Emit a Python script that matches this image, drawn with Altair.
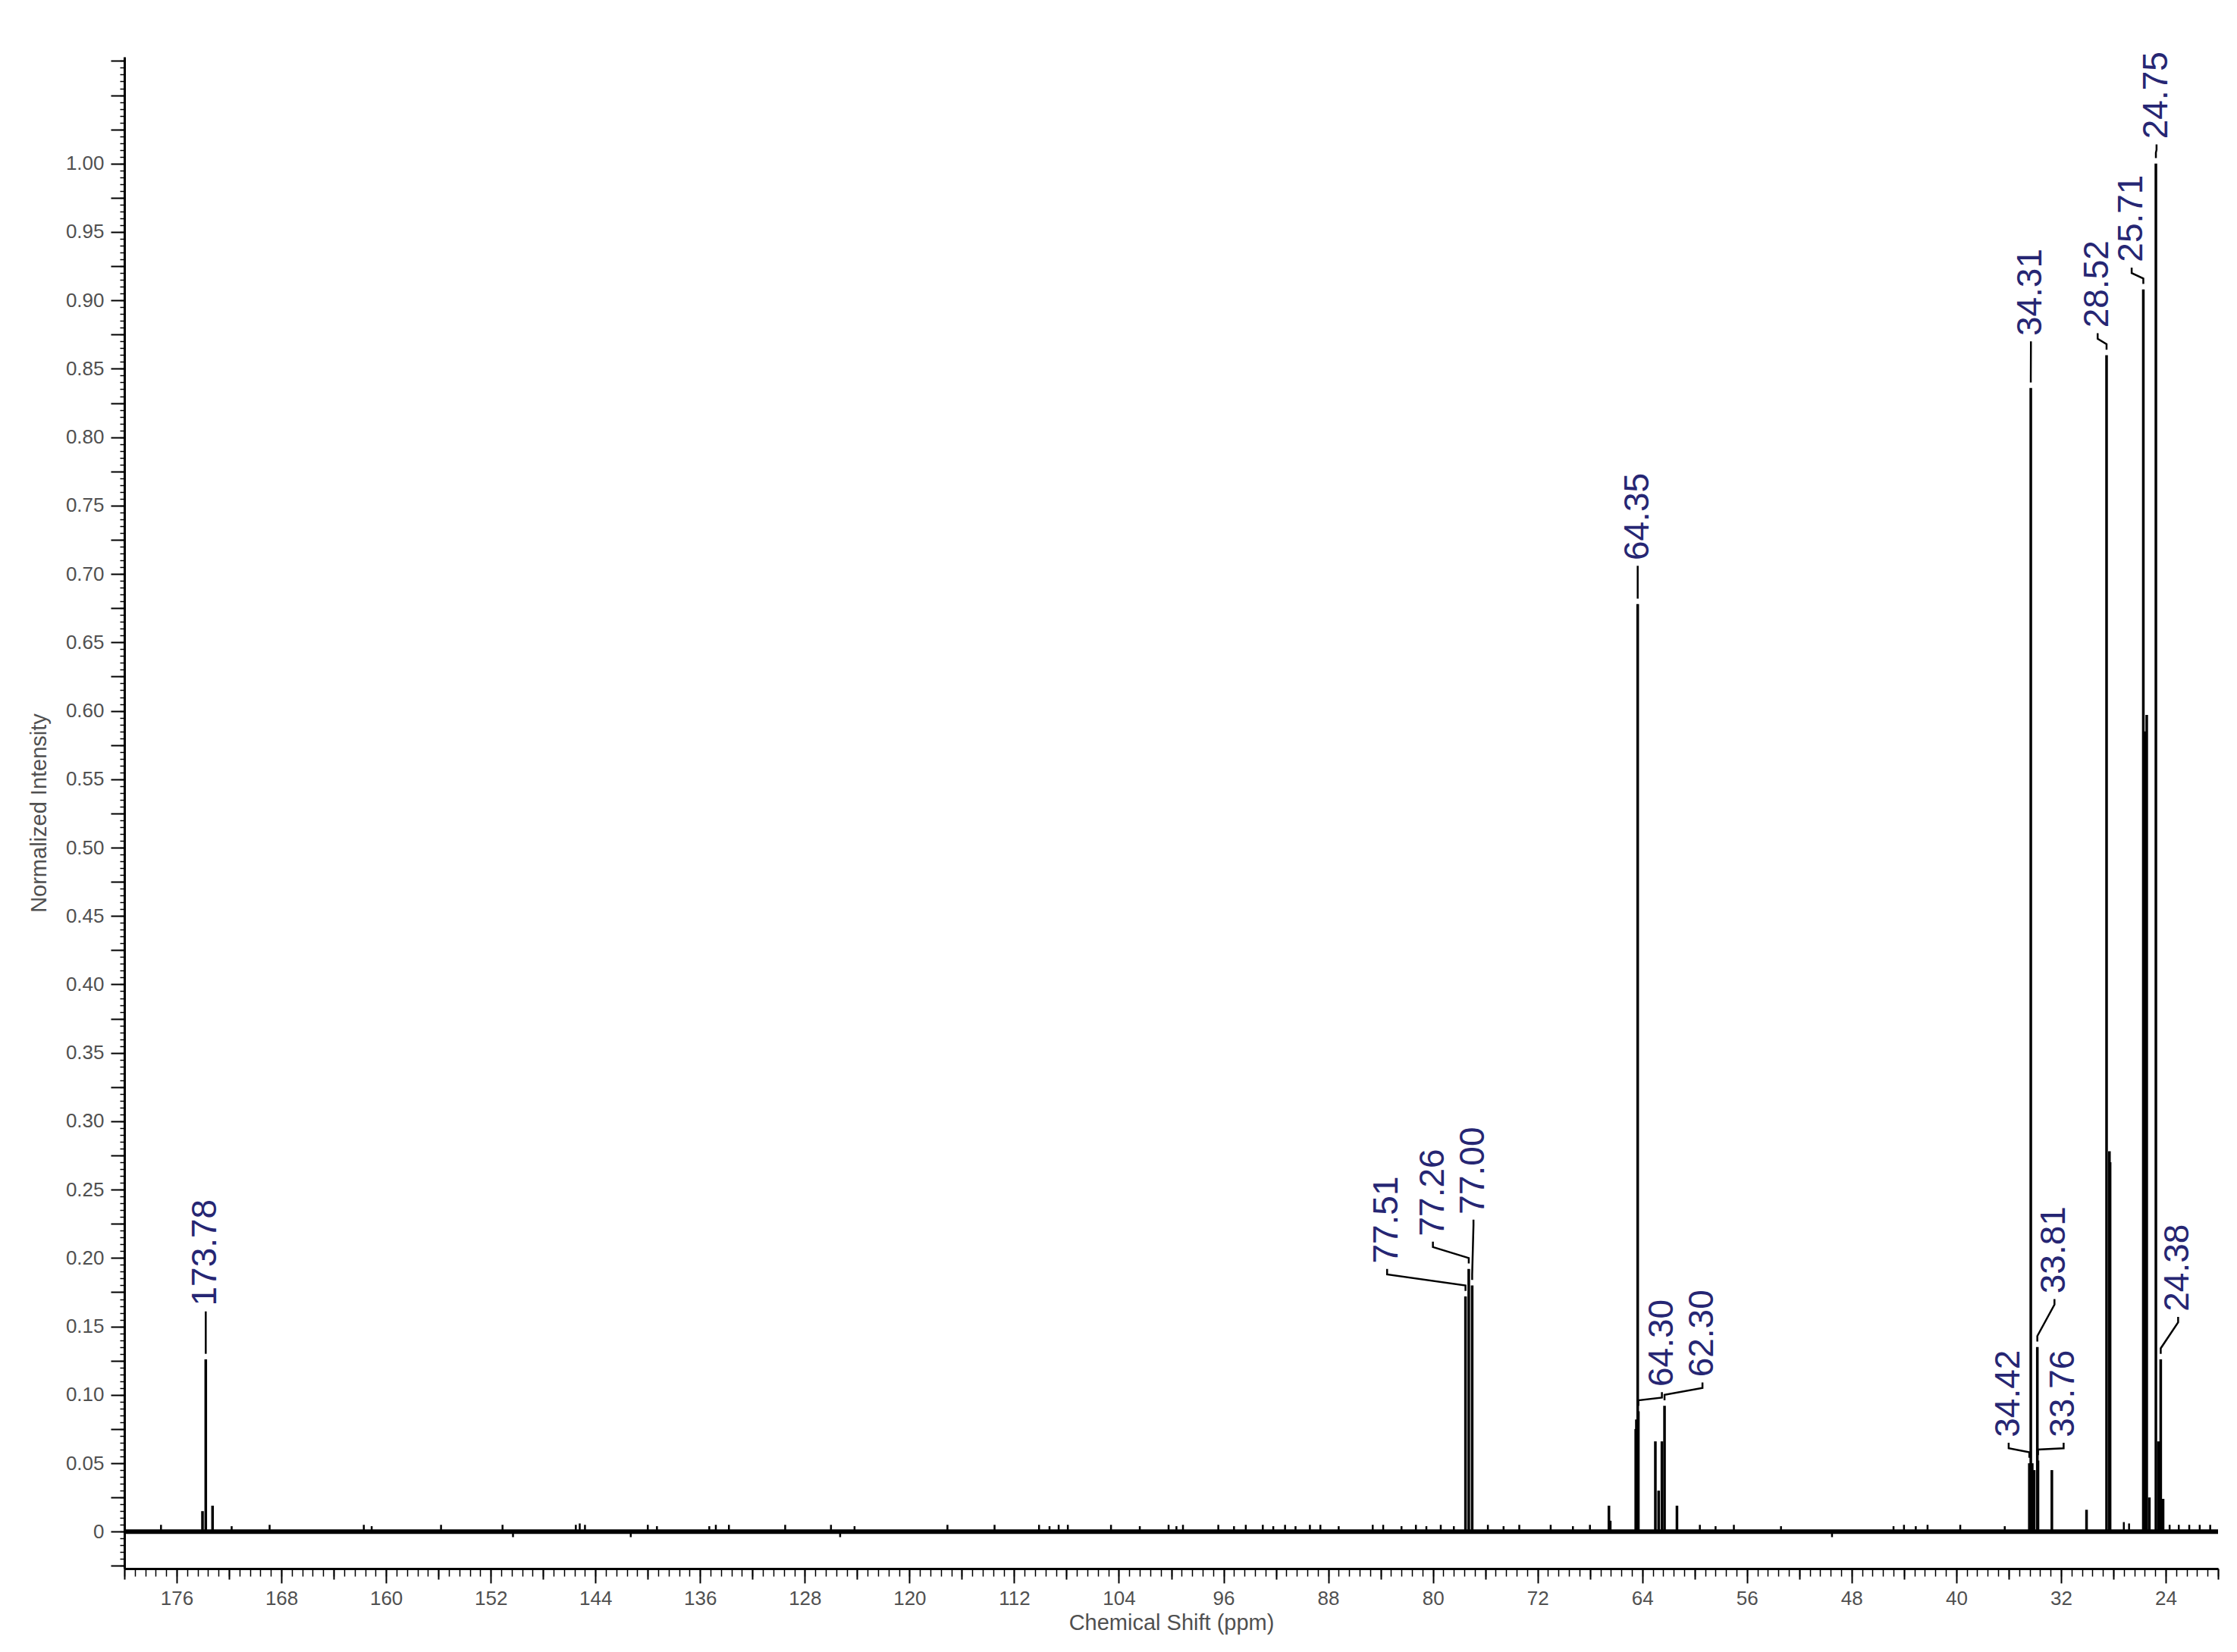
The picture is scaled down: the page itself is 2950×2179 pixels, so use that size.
import altair as alt
import pandas as pd

# ---- spectrum peaks (ppm, normalized intensity) ----
peak_ppm = [174.03, 173.78, 173.26, 77.51, 77.26, 77.00, 66.55, 66.45, 64.50, 64.45, 64.35,
            64.30, 63.00, 62.75, 62.50, 62.30, 61.35, 34.42, 34.31, 34.20, 34.05, 33.81,
            33.76, 32.70, 30.05, 28.52, 28.30, 28.25, 25.71, 25.52, 25.45, 25.25, 24.75,
            24.55, 24.38, 24.20]
peak_int = [0.015, 0.126, 0.019, 0.172, 0.192, 0.180, 0.019, 0.008, 0.075, 0.082, 0.678,
            0.088, 0.066, 0.030, 0.066, 0.092, 0.019, 0.050, 0.836, 0.050, 0.045, 0.135,
            0.052, 0.045, 0.016, 0.860, 0.278, 0.270, 0.908, 0.585, 0.597, 0.025, 1.000,
            0.066, 0.126, 0.024]

# ---- small baseline noise spikes ----
noise_ppm = [177.2, 171.8, 168.9, 161.7, 161.1, 155.8, 151.1, 150.3, 145.5, 145.2, 144.8,
             141.3, 140.0, 139.3, 135.3, 134.8, 133.8, 129.5, 126.0, 125.3, 124.2, 117.1,
             113.5, 110.1, 109.3, 108.6, 107.9, 104.6, 102.4, 100.2, 99.6, 99.1, 96.4, 95.2,
             94.3, 93.0, 92.2, 91.3, 90.5, 89.4, 88.6, 87.2, 84.6, 83.8, 82.4, 81.3, 80.5,
             79.4, 78.4, 75.8, 74.6, 73.4, 71.0, 69.3, 68.0, 59.6, 58.4, 57.0, 53.4, 49.5,
             44.8, 44.0, 43.1, 42.2, 39.7, 36.3, 27.2, 26.8, 23.7, 23.0, 22.2, 21.4, 20.6]
noise_int = [0.005, 0.004, 0.005, 0.005, 0.004, 0.005, 0.005, -0.004, 0.005, 0.006, 0.005,
             -0.004, 0.005, 0.004, 0.004, 0.005, 0.005, 0.005, 0.005, -0.004, 0.004, 0.005,
             0.005, 0.005, 0.004, 0.005, 0.005, 0.005, 0.004, 0.005, 0.004, 0.005, 0.005, 0.004,
             0.005, 0.005, 0.004, 0.005, 0.004, 0.005, 0.005, 0.004, 0.005, 0.005, 0.004, 0.005,
             0.004, 0.005, 0.004, 0.005, 0.004, 0.005, 0.005, 0.004, 0.005, 0.005, 0.004, 0.005,
             0.004, -0.004, 0.004, 0.005, 0.004, 0.005, 0.005, 0.004, 0.007, 0.006, 0.005,
             0.005, 0.005, 0.005, 0.005]

# ---- peak annotations ----
label_text = ["173.78", "77.51", "77.26", "77.00", "64.35", "64.30", "62.30", "34.42",
              "34.31", "33.81", "33.76", "28.52", "25.71", "24.75", "24.38"]
label_ppm = [173.78, 83.5, 80.0, 76.9, 64.35, 62.5, 59.4, 36.0,
             34.3, 32.5, 31.8, 29.2, 26.6, 24.7, 23.05]
label_base = [0.165, 0.196, 0.216, 0.232, 0.710, 0.106, 0.113, 0.069,
              0.874, 0.174, 0.069, 0.880, 0.928, 1.018, 0.161]

# ---- axis ticks ----
x_major = list(range(176, 23, -8))
x_medium = list(range(180, 19, -8))
x_minor = [round(20 + 0.8 * i, 1) for i in range(201)]
y_major = [round(0.05 * i, 2) for i in range(21)]
y_medium = [round(-0.025 + 0.05 * i, 3) for i in range(23)] + [1.05]
y_minor = [round(-0.025 + 0.005 * i, 3) for i in range(221)]

FONT = "Liberation Sans"
GREY = "#505050"
LABEL_BLUE = "#262673"

peaks_df = pd.DataFrame({"ppm": peak_ppm, "int": peak_int, "base": 0.0})
noise_df = pd.DataFrame({"ppm": noise_ppm, "int": noise_int, "base": 0.0})
labels_df = pd.DataFrame({"text": label_text, "x": label_ppm, "y": label_base})

gap, a, b = 0.004, 0.004, 0.004
rows = []
for t, lx, lb in zip(label_text, label_ppm, label_base):
    px = float(t)
    pt = peak_int[peak_ppm.index(px)]
    pts = [(lx, lb - gap), (lx, lb - gap - a), (px, pt + gap + b), (px, pt + gap)]
    for k, (xx, yy) in enumerate(pts):
        rows.append({"lab": t, "k": k, "x": xx, "y": yy})
conn_df = pd.DataFrame(rows)

xs = alt.Scale(domain=[20, 180], reverse=True, nice=False, zero=False)
ys = alt.Scale(domain=[-0.027, 1.078], nice=False, zero=False)

ax_x_main = alt.Axis(values=x_major, orient="bottom", tickSize=19, tickWidth=2, tickColor="black",
                     domain=True, domainWidth=3, domainColor="black", labelFont=FONT,
                     labelFontSize=26, labelColor=GREY, labelPadding=7, format="d",
                     labelFlush=False, labelOverlap=False, title="Chemical Shift (ppm)",
                     titleFont=FONT, titleFontSize=29, titleFontWeight="normal",
                     titleColor=GREY, titlePadding=5)
ax_x_med = alt.Axis(values=x_medium, orient="bottom", tickSize=14, tickWidth=2, tickColor="black",
                    domain=False, labels=False, title="")
ax_x_min = alt.Axis(values=x_minor, orient="bottom", tickSize=10, tickWidth=1.5, tickColor="black",
                    domain=False, labels=False, title="")

ax_y_main = alt.Axis(values=y_major, orient="left", tickSize=18, tickWidth=2, tickColor="black",
                     domain=True, domainWidth=3, domainColor="black", labelFont=FONT,
                     labelFontSize=26, labelColor=GREY, labelPadding=9,
                     labelExpr="datum.value == 0 ? '0' : format(datum.value, '.2f')",
                     labelOverlap=False, title="Normalized Intensity", titleFont=FONT,
                     titleFontSize=29, titleFontWeight="normal", titleColor=GREY,
                     titlePadding=20)
ax_y_med = alt.Axis(values=y_medium, orient="left", tickSize=18, tickWidth=2, tickColor="black",
                    domain=False, labels=False, title="")
ax_y_min = alt.Axis(values=y_minor, orient="left", tickSize=6, tickWidth=1.5, tickColor="black",
                    domain=False, labels=False, title="")

baseline = alt.Chart(pd.DataFrame({"r": [0]})).mark_rule(color="black", strokeWidth=6).encode(
    x=alt.X(datum=180, type="quantitative", scale=xs, axis=ax_x_med),
    x2=alt.datum(20),
    y=alt.Y(datum=0, type="quantitative", scale=ys, axis=ax_y_med),
)

noise = alt.Chart(noise_df).mark_rule(color="black", strokeWidth=2.5).encode(
    x=alt.X("ppm:Q", scale=xs, axis=ax_x_min),
    y=alt.Y("base:Q", scale=ys, axis=ax_y_min),
    y2="int:Q",
)

peaks = alt.Chart(peaks_df).mark_rule(color="black", strokeWidth=3.5).encode(
    x=alt.X("ppm:Q", scale=xs, axis=ax_x_main),
    y=alt.Y("base:Q", scale=ys, axis=ax_y_main),
    y2="int:Q",
)

connectors = alt.Chart(conn_df).mark_line(color="black", strokeWidth=2.5).encode(
    x=alt.X("x:Q", scale=xs, axis=None),
    y=alt.Y("y:Q", scale=ys, axis=None),
    detail="lab:N",
    order="k:Q",
)

texts = alt.Chart(labels_df).mark_text(angle=270, align="left", baseline="middle",
                                        font=FONT, fontSize=46, color=LABEL_BLUE).encode(
    x=alt.X("x:Q", scale=xs, axis=None),
    y=alt.Y("y:Q", scale=ys, axis=None),
    text="text:N",
)

chart = alt.layer(baseline, noise, peaks, connectors, texts).resolve_scale(
    x="shared", y="shared"
).resolve_axis(
    x="independent", y="independent"
).properties(
    width=2761, height=1994,
    autosize=alt.AutoSizeParams(type="none"),
    padding={"left": 156, "top": 67, "right": 17, "bottom": 102},
    background="white",
).configure_view(stroke=None).configure_axis(grid=False)

chart.save("out.html", embed_options={"renderer": "svg", "actions": False})
